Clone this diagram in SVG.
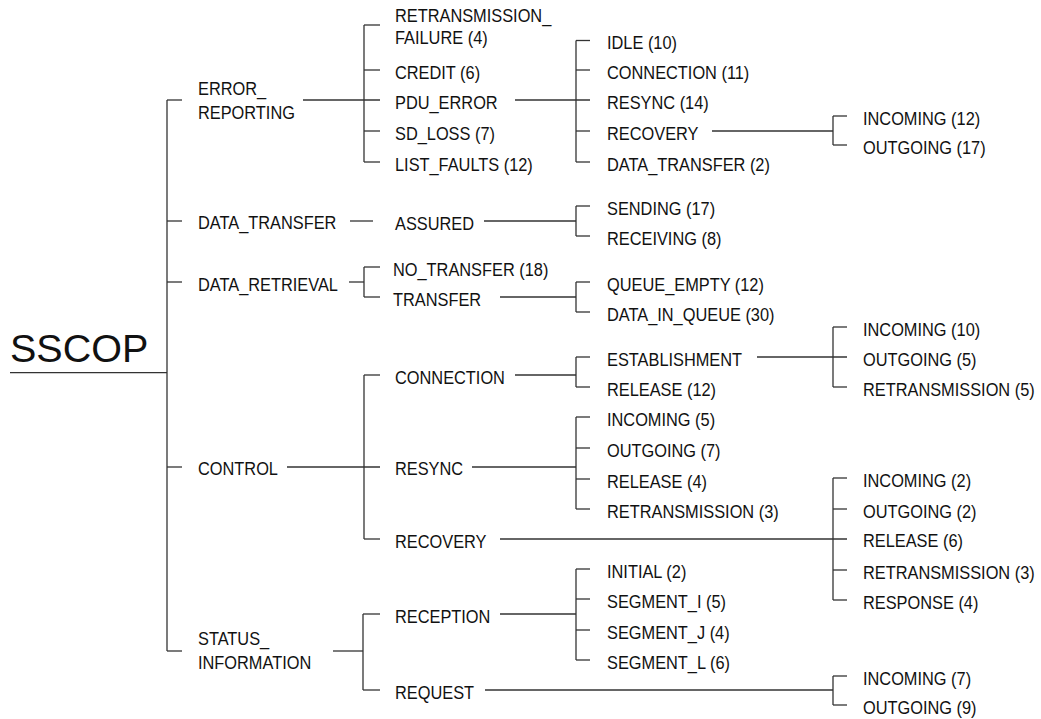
<svg xmlns="http://www.w3.org/2000/svg" width="1041" height="719" viewBox="0 0 1041 719">
<style>
.t{font-family:"Liberation Sans",Arial,Helvetica,sans-serif;font-size:18.6px;fill:#111}
.root{font-family:"Liberation Sans",Arial,Helvetica,sans-serif;font-size:38px;fill:#111}
.c line{stroke:#333;stroke-width:1.3;fill:none}
</style>
<rect width="1041" height="719" fill="#fff"/>
<g id="connectors" class="c">
<line x1="10" y1="372.7" x2="167" y2="372.7"/>
<line x1="167" y1="100" x2="167" y2="651"/>
<line x1="167" y1="100" x2="182" y2="100"/>
<line x1="167" y1="221" x2="182" y2="221"/>
<line x1="167" y1="282" x2="182" y2="282"/>
<line x1="167" y1="467" x2="182" y2="467"/>
<line x1="167" y1="651" x2="182" y2="651"/>
<line x1="303" y1="100" x2="380" y2="100"/>
<line x1="364" y1="25" x2="364" y2="162"/>
<line x1="364" y1="25" x2="380" y2="25"/>
<line x1="364" y1="70" x2="380" y2="70"/>
<line x1="364" y1="131" x2="380" y2="131"/>
<line x1="364" y1="162" x2="380" y2="162"/>
<line x1="515" y1="100" x2="590" y2="100"/>
<line x1="576" y1="40.5" x2="576" y2="162"/>
<line x1="576" y1="40.5" x2="590" y2="40.5"/>
<line x1="576" y1="70" x2="590" y2="70"/>
<line x1="576" y1="131" x2="590" y2="131"/>
<line x1="576" y1="162" x2="590" y2="162"/>
<line x1="712" y1="131" x2="833" y2="131"/>
<line x1="833" y1="116" x2="833" y2="145"/>
<line x1="833" y1="116" x2="847" y2="116"/>
<line x1="833" y1="145" x2="847" y2="145"/>
<line x1="350" y1="221" x2="373" y2="221"/>
<line x1="484" y1="221" x2="576" y2="221"/>
<line x1="576" y1="206" x2="576" y2="236"/>
<line x1="576" y1="206" x2="590" y2="206"/>
<line x1="576" y1="236" x2="590" y2="236"/>
<line x1="349" y1="282" x2="364" y2="282"/>
<line x1="364" y1="267" x2="364" y2="297"/>
<line x1="364" y1="267" x2="380" y2="267"/>
<line x1="364" y1="297" x2="380" y2="297"/>
<line x1="500" y1="297" x2="576" y2="297"/>
<line x1="576" y1="282" x2="576" y2="312"/>
<line x1="576" y1="282" x2="590" y2="282"/>
<line x1="576" y1="312" x2="590" y2="312"/>
<line x1="287" y1="467" x2="380" y2="467"/>
<line x1="364" y1="375" x2="364" y2="539"/>
<line x1="364" y1="375" x2="380" y2="375"/>
<line x1="364" y1="539" x2="380" y2="539"/>
<line x1="515" y1="375" x2="576" y2="375"/>
<line x1="576" y1="357" x2="576" y2="387"/>
<line x1="576" y1="357" x2="590" y2="357"/>
<line x1="576" y1="387" x2="590" y2="387"/>
<line x1="757" y1="357" x2="847" y2="357"/>
<line x1="833" y1="327" x2="833" y2="387"/>
<line x1="833" y1="327" x2="847" y2="327"/>
<line x1="833" y1="387" x2="847" y2="387"/>
<line x1="472" y1="467" x2="576" y2="467"/>
<line x1="576" y1="417" x2="576" y2="509"/>
<line x1="576" y1="417" x2="590" y2="417"/>
<line x1="576" y1="448" x2="590" y2="448"/>
<line x1="576" y1="479" x2="590" y2="479"/>
<line x1="576" y1="509" x2="590" y2="509"/>
<line x1="500" y1="539" x2="847" y2="539"/>
<line x1="833" y1="478" x2="833" y2="600"/>
<line x1="833" y1="478" x2="847" y2="478"/>
<line x1="833" y1="509" x2="847" y2="509"/>
<line x1="833" y1="570" x2="847" y2="570"/>
<line x1="833" y1="600" x2="847" y2="600"/>
<line x1="333" y1="651" x2="363" y2="651"/>
<line x1="363" y1="614" x2="363" y2="690"/>
<line x1="363" y1="614" x2="380" y2="614"/>
<line x1="363" y1="690" x2="380" y2="690"/>
<line x1="500" y1="614" x2="576" y2="614"/>
<line x1="576" y1="569" x2="576" y2="660"/>
<line x1="576" y1="569" x2="590" y2="569"/>
<line x1="576" y1="599" x2="590" y2="599"/>
<line x1="576" y1="630" x2="590" y2="630"/>
<line x1="576" y1="660" x2="590" y2="660"/>
<line x1="485" y1="690" x2="833" y2="690"/>
<line x1="833" y1="676" x2="833" y2="705"/>
<line x1="833" y1="676" x2="847" y2="676"/>
<line x1="833" y1="705" x2="847" y2="705"/>
</g>
<g id="n-sscop"><text class="root" transform="translate(10 362) scale(1.04 1)">SSCOP</text></g>
<g id="n-error-reporting"><text class="t" transform="translate(198 95) scale(.88 1)">ERROR_</text><text class="t" transform="translate(198 118.5) scale(.88 1)">REPORTING</text></g>
<g id="n-data-transfer"><text class="t" transform="translate(198 229) scale(.88 1)">DATA_TRANSFER</text></g>
<g id="n-data-retrieval"><text class="t" transform="translate(198 290.5) scale(.88 1)">DATA_RETRIEVAL</text></g>
<g id="n-control"><text class="t" transform="translate(198 475) scale(.88 1)">CONTROL</text></g>
<g id="n-status-information"><text class="t" transform="translate(198 645) scale(.88 1)">STATUS_</text><text class="t" transform="translate(198 669) scale(.88 1)">INFORMATION</text></g>

<g id="n-retransmission-failure"><text class="t" transform="translate(395 21.5) scale(.88 1)">RETRANSMISSION_</text><text class="t" transform="translate(395 43.5) scale(.88 1)">FAILURE (4)</text></g>
<g id="n-credit"><text class="t" transform="translate(395 78.5) scale(.88 1)">CREDIT (6)</text></g>
<g id="n-pdu-error"><text class="t" transform="translate(395 108.5) scale(.88 1)">PDU_ERROR</text></g>
<g id="n-sd-loss"><text class="t" transform="translate(395 139.5) scale(.88 1)">SD_LOSS (7)</text></g>
<g id="n-list-faults"><text class="t" transform="translate(395 170.5) scale(.88 1)">LIST_FAULTS (12)</text></g>

<g id="n-pdu-idle"><text class="t" transform="translate(607 49) scale(.88 1)">IDLE (10)</text></g>
<g id="n-pdu-connection"><text class="t" transform="translate(607 78.5) scale(.88 1)">CONNECTION (11)</text></g>
<g id="n-pdu-resync"><text class="t" transform="translate(607 108.5) scale(.88 1)">RESYNC (14)</text></g>
<g id="n-pdu-recovery"><text class="t" transform="translate(607 139.5) scale(.88 1)">RECOVERY</text></g>
<g id="n-pdu-data-transfer"><text class="t" transform="translate(607 170.5) scale(.88 1)">DATA_TRANSFER (2)</text></g>
<g id="n-pdu-rec-incoming"><text class="t" transform="translate(863 124.5) scale(.88 1)">INCOMING (12)</text></g>
<g id="n-pdu-rec-outgoing"><text class="t" transform="translate(863 153.5) scale(.88 1)">OUTGOING (17)</text></g>

<g id="n-assured"><text class="t" transform="translate(395 229.5) scale(.88 1)">ASSURED</text></g>
<g id="n-sending"><text class="t" transform="translate(607 214.5) scale(.88 1)">SENDING (17)</text></g>
<g id="n-receiving"><text class="t" transform="translate(607 244.5) scale(.88 1)">RECEIVING (8)</text></g>

<g id="n-no-transfer"><text class="t" transform="translate(393 275.5) scale(.88 1)">NO_TRANSFER (18)</text></g>
<g id="n-transfer"><text class="t" transform="translate(393 305.5) scale(.88 1)">TRANSFER</text></g>
<g id="n-queue-empty"><text class="t" transform="translate(607 290.5) scale(.88 1)">QUEUE_EMPTY (12)</text></g>
<g id="n-data-in-queue"><text class="t" transform="translate(607 320.5) scale(.88 1)">DATA_IN_QUEUE (30)</text></g>

<g id="n-connection"><text class="t" transform="translate(395 383.5) scale(.88 1)">CONNECTION</text></g>
<g id="n-establishment"><text class="t" transform="translate(607 365.5) scale(.88 1)">ESTABLISHMENT</text></g>
<g id="n-conn-release"><text class="t" transform="translate(607 395.5) scale(.88 1)">RELEASE (12)</text></g>
<g id="n-est-incoming"><text class="t" transform="translate(863 335.5) scale(.88 1)">INCOMING (10)</text></g>
<g id="n-est-outgoing"><text class="t" transform="translate(863 365.5) scale(.88 1)">OUTGOING (5)</text></g>
<g id="n-est-retransmission"><text class="t" transform="translate(863 395.5) scale(.88 1)">RETRANSMISSION (5)</text></g>

<g id="n-resync"><text class="t" transform="translate(395 475) scale(.88 1)">RESYNC</text></g>
<g id="n-resync-incoming"><text class="t" transform="translate(607 425.5) scale(.88 1)">INCOMING (5)</text></g>
<g id="n-resync-outgoing"><text class="t" transform="translate(607 456.5) scale(.88 1)">OUTGOING (7)</text></g>
<g id="n-resync-release"><text class="t" transform="translate(607 487.5) scale(.88 1)">RELEASE (4)</text></g>
<g id="n-resync-retransmission"><text class="t" transform="translate(607 517.5) scale(.88 1)">RETRANSMISSION (3)</text></g>

<g id="n-recovery"><text class="t" transform="translate(395 547.5) scale(.88 1)">RECOVERY</text></g>
<g id="n-rec-incoming"><text class="t" transform="translate(863 486.5) scale(.88 1)">INCOMING (2)</text></g>
<g id="n-rec-outgoing"><text class="t" transform="translate(863 517.5) scale(.88 1)">OUTGOING (2)</text></g>
<g id="n-rec-release"><text class="t" transform="translate(863 547) scale(.88 1)">RELEASE (6)</text></g>
<g id="n-rec-retransmission"><text class="t" transform="translate(863 578.5) scale(.88 1)">RETRANSMISSION (3)</text></g>
<g id="n-rec-response"><text class="t" transform="translate(863 608.5) scale(.88 1)">RESPONSE (4)</text></g>

<g id="n-reception"><text class="t" transform="translate(395 622.5) scale(.88 1)">RECEPTION</text></g>
<g id="n-initial"><text class="t" transform="translate(607 577.5) scale(.88 1)">INITIAL (2)</text></g>
<g id="n-segment-i"><text class="t" transform="translate(607 607.5) scale(.88 1)">SEGMENT_I (5)</text></g>
<g id="n-segment-j"><text class="t" transform="translate(607 638.5) scale(.88 1)">SEGMENT_J (4)</text></g>
<g id="n-segment-l"><text class="t" transform="translate(607 668.5) scale(.88 1)">SEGMENT_L (6)</text></g>

<g id="n-request"><text class="t" transform="translate(395 698.5) scale(.88 1)">REQUEST</text></g>
<g id="n-req-incoming"><text class="t" transform="translate(863 684.5) scale(.88 1)">INCOMING (7)</text></g>
<g id="n-req-outgoing"><text class="t" transform="translate(863 713.5) scale(.88 1)">OUTGOING (9)</text></g>
</svg>
